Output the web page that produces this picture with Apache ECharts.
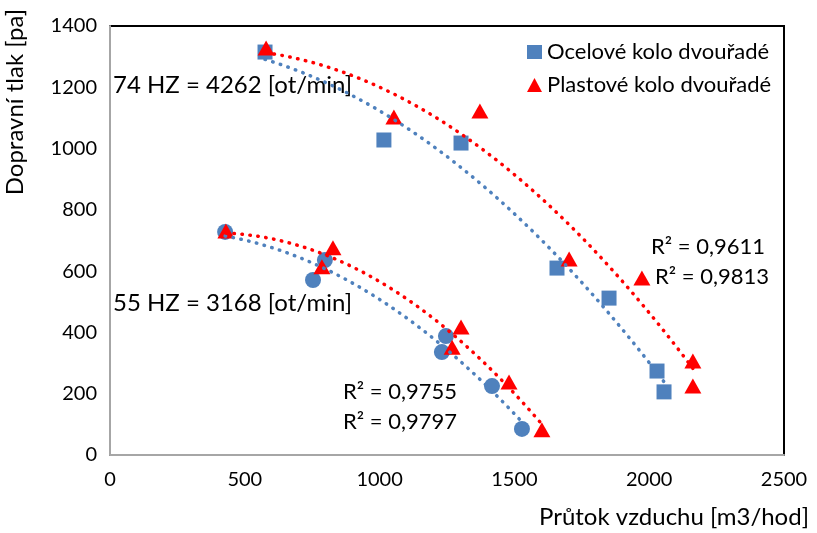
<!DOCTYPE html>
<html>
<head>
<meta charset="utf-8">
<script src="https://cdn.jsdelivr.net/npm/echarts@6/dist/echarts.min.js"></script>
<style>
html, body { margin: 0; padding: 0; background: #fff; }
#chartmain { width: 817px; height: 533px; }
</style>
</head>
<body>
<div id="chartmain"></div>
<script>
// 74 HZ - ocelove kolo (ctverce)
var ocel74X = [575, 1016, 1302, 1658, 1851, 2029, 2055];
var ocel74Y = [1315, 1028, 1018, 610, 512, 274, 206];
// 74 HZ - plastove kolo (trojuhelniky)
var plast74X = [579, 1053, 1372, 1703, 1973, 2162, 2162];
var plast74Y = [1328, 1103, 1123, 640, 578, 307, 225];
// 55 HZ - ocelove kolo (kolecka)
var ocel55X = [427, 797, 753, 1246, 1231, 1417, 1528];
var ocel55Y = [728, 636, 571, 388, 336, 225, 85];
// 55 HZ - plastove kolo (trojuhelniky)
var plast55X = [430, 827, 786, 1302, 1269, 1480, 1602];
var plast55Y = [731, 676, 614, 418, 352, 238, 82];

var xTicks = [0, 500, 1000, 1500, 2000, 2500];
var yTicks = [0, 200, 400, 600, 800, 1000, 1200, 1400];

var modra = '#4F81BD';
var cervena = '#FF0000';
var pismo = 'Lato, "Open Sans", sans-serif';

function body(xs, ys) {
	var out = [];
	for (var i = 0; i < xs.length; i++) out.push([xs[i], ys[i]]);
	return out;
}

// polynomicky trend 2. radu (jako v Excelu)
function trend(xs, ys) {
	var n = xs.length, s = [0, 0, 0, 0, 0], t = [0, 0, 0];
	for (var i = 0; i < n; i++) {
		var p = 1;
		for (var k = 0; k < 5; k++) { s[k] += p; if (k < 3) t[k] += p * ys[i]; p *= xs[i]; }
	}
	var m = [[s[0], s[1], s[2], t[0]], [s[1], s[2], s[3], t[1]], [s[2], s[3], s[4], t[2]]];
	for (var c = 0; c < 3; c++) {
		for (var r = c + 1; r < 3; r++) {
			var f = m[r][c] / m[c][c];
			for (var j = c; j < 4; j++) m[r][j] -= f * m[c][j];
		}
	}
	var b = [0, 0, 0];
	for (var r2 = 2; r2 >= 0; r2--) {
		var v = m[r2][3];
		for (var j2 = r2 + 1; j2 < 3; j2++) v -= m[r2][j2] * b[j2];
		b[r2] = v / m[r2][r2];
	}
	var lo = Math.min.apply(null, xs), hi = Math.max.apply(null, xs), out = [];
	for (var q = 0; q <= 60; q++) {
		var x = lo + (hi - lo) * q / 60;
		out.push([x, b[0] + b[1] * x + b[2] * x * x]);
	}
	return out;
}

function trendSerie(xs, ys, barva) {
	return {
		type: 'line',
		data: trend(xs, ys),
		showSymbol: false,
		symbol: 'none',
		silent: true,
		z: 5,
		lineStyle: { color: barva, width: 3.5, type: [0.5, 7.5], cap: 'round' }
	};
}

function text(t, x, y, size) {
	return {
		type: 'text', left: x, top: y - size * 0.62,
		style: { text: t, font: size + 'px ' + pismo, fill: '#000' }
	};
}

var option = {
	animation: false,
	textStyle: { fontFamily: pismo },
	grid: { left: 110, right: 33, top: 26, bottom: 78, show: true, borderColor: '#000', borderWidth: 2 },
	legend: {
		data: [
			{ name: 'Ocelové kolo dvouřadé', icon: 'rect' },
			{ name: 'Plastové kolo dvouřadé', icon: 'triangle' }
		],
		orient: 'vertical',
		left: 522, top: 36,
		itemWidth: 15, itemHeight: 14, itemGap: 11,
		textStyle: { fontSize: 22, color: '#000', fontFamily: pismo }
	},
	xAxis: {
		type: 'value', min: 0, max: 2500, interval: 500,
		splitLine: { show: false },
		axisTick: { show: false },
		axisLine: { lineStyle: { color: '#A6A6A6', width: 2 } },
		axisLabel: { fontSize: 20, color: '#000', margin: 15, formatter: function (v) { return String(v); } }
	},
	yAxis: {
		type: 'value', min: 0, max: 1400, interval: 200,
		splitLine: { show: false },
		axisTick: { show: false },
		axisLine: { show: true, lineStyle: { color: '#A6A6A6', width: 2 } },
		axisLabel: { fontSize: 20, color: '#000', margin: 13, formatter: function (v) { return String(v); } }
	},
	graphic: [
		text('74 HZ = 4262 [ot/min]', 113, 88, 24),
		text('55 HZ = 3168 [ot/min]', 113, 306, 24),
		text('R² = 0,9611', 651, 250, 22),
		text('R² = 0,9813', 655, 280, 22),
		text('R² = 0,9755', 343, 395, 22),
		text('R² = 0,9797', 343, 425, 22),
		{
			type: 'text', left: 3, top: 9, rotation: Math.PI / 2,
			style: { text: 'Dopravní tlak [pa]', font: '24px ' + pismo, fill: '#000' }
		},
		text('Průtok vzduchu [m3/hod]', 539, 520, 24)
	],
	series: [
		{
			name: 'Ocelové kolo dvouřadé', type: 'scatter', symbol: 'rect', symbolSize: 15,
			itemStyle: { color: modra, opacity: 1 }, data: body(ocel74X, ocel74Y), z: 2
		},
		{
			name: 'Ocelové kolo 55 HZ', type: 'scatter', symbol: 'circle', symbolSize: 16,
			itemStyle: { color: modra, opacity: 1 }, data: body(ocel55X, ocel55Y), z: 2
		},
		{
			name: 'Plastové kolo dvouřadé', type: 'scatter', symbol: 'triangle', symbolSize: [17, 15],
			itemStyle: { color: cervena, opacity: 1 }, data: body(plast74X, plast74Y), z: 3
		},
		{
			name: 'Plastové kolo 55 HZ', type: 'scatter', symbol: 'triangle', symbolSize: [17, 15],
			itemStyle: { color: cervena, opacity: 1 }, data: body(plast55X, plast55Y), z: 3
		},
		trendSerie(ocel74X, ocel74Y, modra),
		trendSerie(plast74X, plast74Y, cervena),
		trendSerie(ocel55X, ocel55Y, modra),
		trendSerie(plast55X, plast55Y, cervena)
	]
};

var myChart = echarts.init(document.getElementById('chartmain'));
myChart.setOption(option);
</script>
</body>
</html>
